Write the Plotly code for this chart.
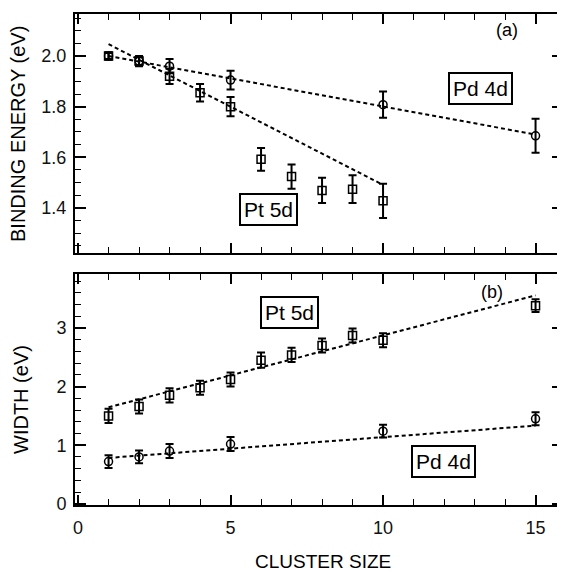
import plotly.graph_objects as go

# ---------- data ----------
# (a) binding energy
pt_be_x = [1, 2, 3, 4, 5, 6, 7, 8, 9, 10]
pt_be_y = [2.00, 1.98, 1.92, 1.855, 1.80, 1.592, 1.524, 1.469, 1.474, 1.428]
pt_be_err = [0.015, 0.02, 0.03, 0.035, 0.038, 0.045, 0.048, 0.05, 0.055, 0.068]
pd_be_x = [1, 2, 3, 5, 10, 15]
pd_be_y = [2.00, 1.98, 1.96, 1.905, 1.808, 1.685]
pd_be_err = [0.012, 0.015, 0.028, 0.037, 0.052, 0.067]
pt_be_fit_x = [1, 10]
pt_be_fit_y = [2.047, 1.491]
pd_be_fit_x = [1, 15]
pd_be_fit_y = [2.00, 1.69]

# (b) width
pt_w_x = [1, 2, 3, 4, 5, 6, 7, 8, 9, 10, 15]
pt_w_y = [1.50, 1.66, 1.85, 1.98, 2.12, 2.45, 2.54, 2.70, 2.87, 2.79, 3.38]
pt_w_err = [0.12, 0.12, 0.12, 0.12, 0.12, 0.13, 0.12, 0.12, 0.12, 0.12, 0.11]
pd_w_x = [1, 2, 3, 5, 10, 15]
pd_w_y = [0.72, 0.80, 0.90, 1.02, 1.24, 1.45]
pd_w_err = [0.11, 0.11, 0.12, 0.12, 0.11, 0.11]
pt_w_fit_x = [1, 15]
pt_w_fit_y = [1.646, 3.555]
pd_w_fit_x = [1, 15]
pd_w_fit_y = [0.783, 1.334]

x_ticks = [0, 5, 10, 15]
be_ticks = [1.4, 1.6, 1.8, 2.0]
w_ticks = [0, 1, 2, 3]

FONT = "Liberation Sans, Arial, Helvetica, sans-serif"
BLK = "black"

fig = go.Figure()

def marks(x, y, err, sym, xa, ya):
    fig.add_trace(go.Scatter(
        x=x, y=y, mode="markers", xaxis=xa, yaxis=ya, cliponaxis=False,
        marker=dict(symbol=sym, size=8, color=BLK, line=dict(width=1.5, color=BLK)),
        error_y=dict(type="data", array=err, visible=True, color=BLK, thickness=2, width=4),
        showlegend=False))

def fit(x, y, xa, ya):
    fig.add_trace(go.Scatter(
        x=x, y=y, mode="lines", xaxis=xa, yaxis=ya,
        line=dict(color=BLK, width=2, dash="4px,3px"), showlegend=False))

fit(pt_be_fit_x, pt_be_fit_y, "x", "y")
fit(pd_be_fit_x, pd_be_fit_y, "x", "y")
marks(pd_be_x, pd_be_y, pd_be_err, "circle-open", "x", "y")
marks(pt_be_x, pt_be_y, pt_be_err, "square-open", "x", "y")

fit(pt_w_fit_x, pt_w_fit_y, "x2", "y2")
fit(pd_w_fit_x, pd_w_fit_y, "x2", "y2")
marks(pd_w_x, pd_w_y, pd_w_err, "circle-open", "x2", "y2")
marks(pt_w_x, pt_w_y, pt_w_err, "square-open", "x2", "y2")

# page has an 8px body margin; figure is sized to fit inside the window
OFF = 8
W, H = 565 - OFF, 571 - OFF
PL, PR, PT, PB = 75, 563, 14, 505   # plot-area edges in page pixels
L, T = PL - OFF, PT - OFF
B = H - (PB - OFF)
R = W - (PR - OFF)
ph = H - T - B
pw = W - L - R
top_dom = [(PB - 253) / ph, 1.0]
bot_dom = [0.0, (PB - 274) / ph]

def px(xp):
    return (xp - PL) / pw

def py(yp):
    return (PB - yp) / ph

common_x = dict(range=[-0.1, 15.9], showline=True, linewidth=2, linecolor=BLK,
                mirror="allticks", ticks="inside", ticklen=10, tickwidth=1.6, tickcolor=BLK,
                tickvals=x_ticks, showgrid=False, zeroline=False, automargin=False,
                minor=dict(dtick=1, ticks="inside", ticklen=6, tickwidth=1.4, tickcolor=BLK, showgrid=False))
common_y = dict(showline=True, linewidth=2, linecolor=BLK, mirror="allticks",
                ticks="inside", ticklen=11, tickwidth=1.6, tickcolor=BLK,
                showgrid=False, zeroline=False, ticklabelstandoff=3, automargin=False,
                tickfont=dict(family=FONT, size=18, color="#111"))

fig.update_layout(
    width=W, height=H, margin=dict(l=L, r=R, t=T, b=B, autoexpand=False),
    paper_bgcolor="white", plot_bgcolor="white",
    font=dict(family=FONT, color=BLK),
    xaxis=dict(common_x, domain=[0, 1], anchor="y", showticklabels=False),
    yaxis=dict(common_y, domain=top_dom, anchor="x", range=[1.222, 2.166],
               tickvals=be_ticks, ticktext=["1.4", "1.6", "1.8", "2.0"],
               minor=dict(dtick=0.05, tick0=0, ticks="inside", ticklen=6, tickwidth=1.4, tickcolor=BLK, showgrid=False)),
    xaxis2=dict(common_x, domain=[0, 1], anchor="y2", showticklabels=True,
                tickfont=dict(family=FONT, size=18, color="#111"), ticklabelstandoff=5),
    yaxis2=dict(common_y, domain=bot_dom, anchor="x2", range=[-0.02, 3.92],
                tickvals=w_ticks,
                minor=dict(dtick=0.2, tick0=0, ticks="inside", ticklen=6, tickwidth=1.4, tickcolor=BLK, showgrid=False)),
)

def box(text, x, y, xr, yr):
    fig.add_annotation(text=text, x=x, y=y, xref=xr, yref=yr, showarrow=False,
                       xanchor="center", yanchor="middle",
                       font=dict(family=FONT, size=21, color=BLK),
                       bordercolor=BLK, borderwidth=2, borderpad=3, bgcolor="white")

box("Pd 4d", 13.2, 1.87, "x", "y")
box("Pt 5d", 6.23, 1.392, "x", "y")
box("Pt 5d", 6.92, 3.26, "x2", "y2")
box("Pd 4d", 11.97, 0.72, "x2", "y2")

fig.add_annotation(text="(a)", x=14.07, y=2.103, xref="x", yref="y", showarrow=False,
                   xanchor="center", yanchor="middle",
                   font=dict(family=FONT, size=18, color=BLK))
fig.add_annotation(text="(b)", x=13.57, y=3.62, xref="x2", yref="y2", showarrow=False,
                   xanchor="center", yanchor="middle",
                   font=dict(family=FONT, size=18, color=BLK))

# axis titles
fig.add_annotation(text="BINDING ENERGY (eV)", textangle=-90, xref="paper", yref="paper",
                   x=px(18), y=py(134), xanchor="center", yanchor="middle", showarrow=False,
                   font=dict(family=FONT, size=20, color=BLK))
fig.add_annotation(text="WIDTH (eV)", textangle=-90, xref="paper", yref="paper",
                   x=px(21), y=py(400), xanchor="center", yanchor="middle", showarrow=False,
                   font=dict(family=FONT, size=20, color=BLK))
fig.add_annotation(text="CLUSTER SIZE", xref="paper", yref="paper",
                   x=px(323), y=py(561), xanchor="center", yanchor="middle", showarrow=False,
                   font=dict(family=FONT, size=19, color=BLK))

fig.write_html("out.html")
